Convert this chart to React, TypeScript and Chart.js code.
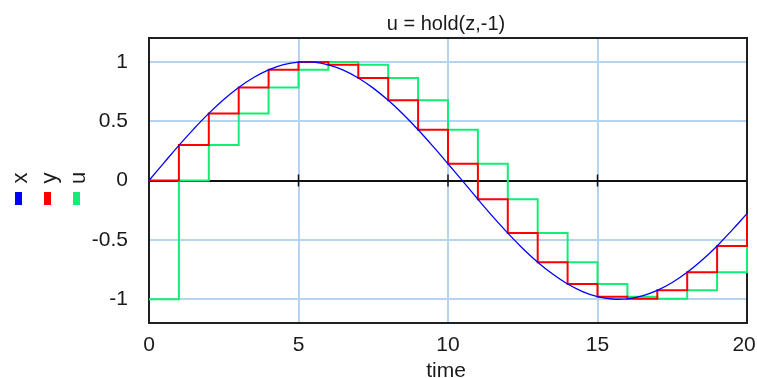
import React, { useEffect, useRef } from 'react';
import { Chart, registerables } from 'chart.js';

Chart.register(...registerables);

const TITLE = 'u = hold(z,-1)';
const X_TITLE = 'time';
const SERIES_NAMES = ['x', 'y', 'u'];
const SERIES_COLORS = ['#0000ff', '#ff0000', '#10ee78'];

// continuous signal x, sampled every 0.5 time units
const xTime = [0, 0.5, 1, 1.5, 2, 2.5, 3, 3.5, 4, 4.5, 5, 5.5, 6, 6.5, 7, 7.5, 8, 8.5, 9, 9.5, 10,
  10.5, 11, 11.5, 12, 12.5, 13, 13.5, 14, 14.5, 15, 15.5, 16, 16.5, 17, 17.5, 18, 18.5, 19, 19.5, 20];
const xValues = [0, 0.149, 0.296, 0.435, 0.565, 0.682, 0.783, 0.867, 0.932, 0.976, 0.997, 0.997, 0.974,
  0.929, 0.863, 0.778, 0.675, 0.558, 0.427, 0.287, 0.141, -0.008, -0.158, -0.304, -0.443, -0.572,
  -0.688, -0.788, -0.872, -0.935, -0.978, -0.998, -0.996, -0.971, -0.925, -0.859, -0.773, -0.67,
  -0.551, -0.418, -0.279];

// step signals y and u, one value per integer time
const stepTime = [0, 1, 2, 3, 4, 5, 6, 7, 8, 9, 10, 11, 12, 13, 14, 15, 16, 17, 18, 19, 20];
const yValues = [0, 0.3, 0.565, 0.783, 0.932, 0.997, 0.974, 0.863, 0.675, 0.427, 0.141, -0.158,
  -0.443, -0.688, -0.872, -0.978, -0.996, -0.925, -0.773, -0.551, -0.279];
const uValues = [-1, 0, 0.3, 0.565, 0.783, 0.932, 0.997, 0.974, 0.863, 0.675, 0.427, 0.141, -0.158,
  -0.443, -0.688, -0.872, -0.978, -0.996, -0.925, -0.773, -0.551];

const xTicks = [0, 5, 10, 15, 20];
const yTicks = [-1, -0.5, 0, 0.5, 1];

const FONT = '"Liberation Sans", Arial, sans-serif';
const GRID_BLUE = '#b6d3ef';
const TEXT = '#1a1a1a';

const decorPlugin = {
  id: 'decor',
  beforeDatasetsDraw(chart: any) {
    const { ctx, chartArea: a, scales } = chart;
    const y0 = scales.y.getPixelForValue(0);
    ctx.save();
    ctx.strokeStyle = '#111';
    ctx.lineWidth = 1.5;
    xTicks.slice(1, -1).forEach((v) => {
      const px = scales.x.getPixelForValue(v);
      ctx.beginPath();
      ctx.moveTo(px, y0 - 6);
      ctx.lineTo(px, y0 + 6);
      ctx.stroke();
    });
    ctx.lineWidth = 2;
    ctx.strokeStyle = '#202020';
    ctx.strokeRect(a.left, a.top, a.right - a.left, a.bottom - a.top);
    ctx.restore();
  },
  afterDraw(chart: any) {
    const { ctx, chartArea: a } = chart;
    const cx = (a.left + a.right) / 2;
    ctx.save();
    ctx.fillStyle = TEXT;
    ctx.textAlign = 'center';
    ctx.textBaseline = 'alphabetic';
    ctx.font = `20px ${FONT}`;
    ctx.fillText(TITLE, cx - 2, 30);
    ctx.font = `21px ${FONT}`;
    ctx.fillText(X_TITLE, cx - 2, 377);
    // legend, rotated
    const baseXs = [27, 56, 85];
    SERIES_NAMES.forEach((name, i) => {
      ctx.save();
      ctx.translate(baseXs[i], 178);
      ctx.rotate(-Math.PI / 2);
      ctx.font = `22px ${FONT}`;
      ctx.fillStyle = TEXT;
      ctx.textAlign = 'center';
      ctx.textBaseline = 'alphabetic';
      ctx.fillText(name, 0, 0);
      ctx.restore();
      ctx.fillStyle = SERIES_COLORS[i];
      ctx.fillRect(baseXs[i] - 12, 192, 7, 13);
    });
    ctx.restore();
  },
};

export default function App() {
  const ref = useRef<HTMLCanvasElement>(null);
  useEffect(() => {
    if (!ref.current) return;
    const chart = new Chart(ref.current, {
      type: 'line',
      data: {
        datasets: [
          {
            label: SERIES_NAMES[0],
            data: xTime.map((t, i) => ({ x: t, y: xValues[i] })),
            borderColor: SERIES_COLORS[0],
            borderWidth: 1.3,
            pointRadius: 0,
            tension: 0.4,
            fill: false,
            clip: false,
          },
          {
            label: SERIES_NAMES[1],
            data: stepTime.map((t, i) => ({ x: t, y: yValues[i] })),
            borderColor: SERIES_COLORS[1],
            borderWidth: 2,
            pointRadius: 0,
            stepped: true,
            fill: false,
            clip: false,
          },
          {
            label: SERIES_NAMES[2],
            data: stepTime.map((t, i) => ({ x: t, y: uValues[i] })),
            borderColor: SERIES_COLORS[2],
            borderWidth: 2,
            pointRadius: 0,
            stepped: true,
            fill: false,
            clip: false,
          },
        ],
      },
      options: {
        responsive: false,
        animation: false,
        layout: { padding: { left: 0, right: 10, top: 38, bottom: 0 } },
        plugins: { legend: { display: false }, title: { display: false }, tooltip: { enabled: false } },
        scales: {
          x: {
            type: 'linear',
            min: 0,
            max: 20,
            afterBuildTicks: (s: any) => { s.ticks = xTicks.map((v) => ({ value: v })); },
            afterFit: (s: any) => { s.height = 55; s.paddingLeft = 0; s.paddingRight = 0; },
            border: { display: false },
            grid: {
              drawTicks: false,
              color: (c: any) => (c.tick && (c.tick.value === 0 || c.tick.value === 20) ? 'rgba(0,0,0,0)' : GRID_BLUE),
              lineWidth: 2,
            },
            ticks: {
              padding: 10,
              maxRotation: 0,
              color: TEXT,
              font: { family: FONT, size: 21 },
              callback: (v: any) => (v === xTicks[xTicks.length - 1] ? String(v) + '\u2008' : String(v)),
            },
          },
          y: {
            type: 'linear',
            min: -1.2,
            max: 1.2,
            afterBuildTicks: (s: any) => { s.ticks = yTicks.map((v) => ({ value: v })); },
            afterFit: (s: any) => { s.width = 149; },
            border: { display: false },
            grid: {
              drawTicks: false,
              color: (c: any) => (c.tick && c.tick.value === 0 ? '#111' : GRID_BLUE),
              lineWidth: 2,
            },
            ticks: {
              padding: 21,
              color: TEXT,
              font: { family: FONT, size: 21 },
              callback: (v: any) => String(v),
            },
          },
        },
      },
      plugins: [decorPlugin],
    } as any);
    return () => chart.destroy();
  }, []);
  return (
    <div style={{ position: 'fixed', left: 0, top: 0, width: 757, height: 378, background: '#fff' }}>
      <canvas ref={ref} width={757} height={378} style={{ display: 'block' }} />
    </div>
  );
}
